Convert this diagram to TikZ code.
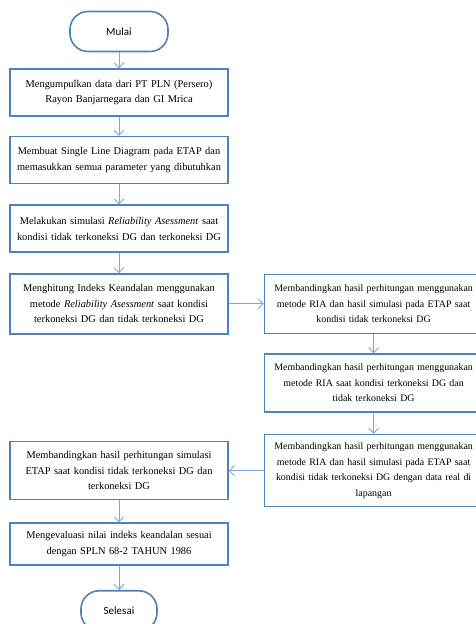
\documentclass[tikz,border=0pt]{standalone}
\usepackage{fontspec}
\setmainfont{Liberation Serif}
\newfontfamily\calfont{Carlito}
\usetikzlibrary{arrows.meta,positioning}
\definecolor{garis}{HTML}{4F81BD}
\definecolor{panah}{HTML}{7EA6D8}

\begin{document}
\begin{tikzpicture}[x=1pt, y=1pt, ->, >={Straight Barb[length=5pt,width=10pt]}, semithick, node distance=20pt]
\tikzstyle{proses}=[draw=garis, line width=1.6pt, fill=white, text=black, text width=210pt, inner sep=4pt, align=center, font=\fontsize{10.4}{15.5}\selectfont]
\tikzstyle{kanan}=[proses, font=\fontsize{9.9}{15.5}\selectfont, xshift=0pt]
\tikzstyle{terminal}=[draw=garis, line width=1.6pt, fill=white, rounded corners=18pt, minimum height=40pt, font=\calfont\fontsize{11}{13}\selectfont]
\tikzstyle{alur}=[draw=panah, line width=0.9pt]
\useasboundingbox (0,0) rectangle (475,624);
\node[terminal, minimum width=98pt] (M) at (119,592.5) {Mulai};
\node[proses, minimum height=47pt] (A)[below=16pt of M] {Mengumpulkan data dari PT PLN (Persero)\\ Rayon Banjarnegara dan GI Mrica};
\node[proses, minimum height=47pt] (B)[below=19pt of A] {Membuat Single Line Diagram pada ETAP dan\\ memasukkan semua parameter yang dibutuhkan};
\node[proses, minimum height=47pt] (C)[below=20pt of B] {Melakukan simulasi \textit{Reliability Asessment} saat\\ kondisi tidak terkoneksi DG dan terkoneksi DG};
\node[proses, minimum height=60pt] (D)[below=20pt of C] {Menghitung Indeks Keandalan menggunakan\\ metode \textit{Reliability Asessment} saat kondisi\\ terkoneksi DG dan tidak terkoneksi DG};
\node[kanan, minimum height=59pt] (P)[right=35pt of D] {Membandingkan hasil perhitungan menggunakan\\ metode RIA dan hasil simulasi pada ETAP saat\\ kondisi tidak terkoneksi DG};
\node[kanan, minimum height=58pt] (Q)[below=19pt of P] {Membandingkan hasil perhitungan menggunakan\\ metode RIA saat kondisi terkoneksi DG dan\\ tidak terkoneksi DG};
\node[kanan, minimum height=72pt] (R)[below=21pt of Q] {Membandingkan hasil perhitungan menggunakan\\ metode RIA dan hasil simulasi pada ETAP saat\\ kondisi tidak terkoneksi DG dengan data real di\\ lapangan};
\node[proses, minimum height=58pt] (E)[left=35pt of R] {Membandingkan hasil perhitungan simulasi\\ ETAP saat kondisi tidak terkoneksi DG dan\\ terkoneksi DG};
\node[proses, minimum height=42pt] (F)[below=22pt of E] {Mengevaluasi nilai indeks keandalan sesuai\\ dengan SPLN 68-2 TAHUN 1986};
\node[terminal, minimum width=76pt] (S)[below=24pt of F] {Selesai};
\path
(M) edge[alur] (A)
(A) edge[alur] (B)
(B) edge[alur] (C)
(C) edge[alur] (D)
(D) edge[alur] (P)
(P) edge[alur] (Q)
(Q) edge[alur] (R)
(R) edge[alur] (E)
(E) edge[alur] (F)
(F) edge[alur] (S);
\end{tikzpicture}
\end{document}
